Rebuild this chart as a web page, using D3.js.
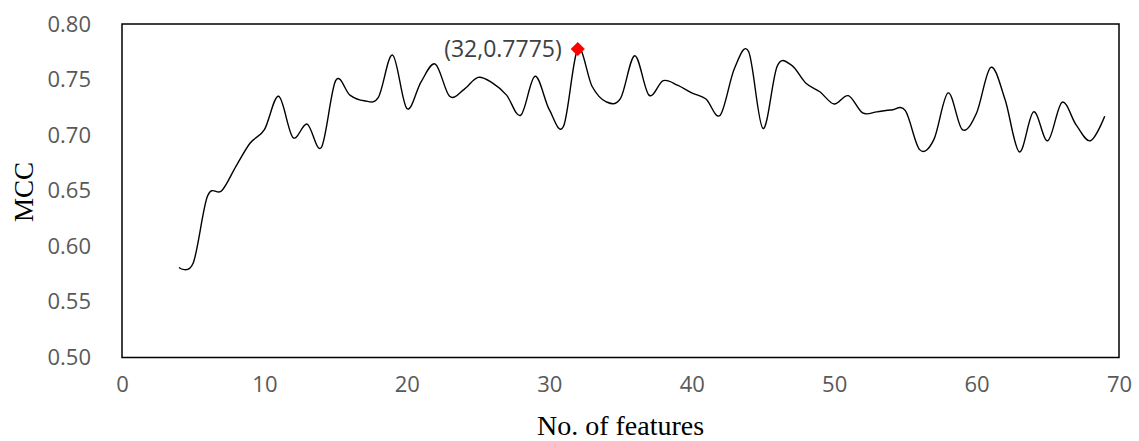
<!DOCTYPE html>
<html>
<head>
<meta charset="utf-8">
<script src="https://cdn.jsdelivr.net/npm/d3@7"></script>
<style>
  html, body { margin: 0; padding: 0; background: #fff; }
  svg { display: block; }
</style>
</head>
<body>
<svg id="chart" width="1139" height="441"></svg>
<script>
const features = [4,5,6,7,8,9,10,11,12,13,14,15,16,17,18,19,20,21,22,23,24,25,26,27,28,29,30,31,32,33,34,35,36,37,38,39,40,41,42,43,44,45,46,47,48,49,50,51,52,53,54,55,56,57,58,59,60,61,62,63,64,65,66,67,68,69];
const mcc = [0.581,0.585,0.645,0.650,0.672,0.693,0.705,0.735,0.698,0.710,0.689,0.749,0.736,0.731,0.734,0.772,0.724,0.748,0.764,0.735,0.741,0.752,0.747,0.736,0.718,0.753,0.723,0.708,0.7775,0.744,0.730,0.733,0.7715,0.736,0.749,0.745,0.738,0.7325,0.718,0.760,0.775,0.706,0.762,0.763,0.747,0.739,0.728,0.7355,0.720,0.721,0.7226,0.722,0.687,0.696,0.738,0.705,0.720,0.761,0.732,0.685,0.721,0.695,0.7296,0.709,0.695,0.717];
const xTicks = [0,10,20,30,40,50,60,70];
const yTicks = [0.50,0.55,0.60,0.65,0.70,0.75,0.80];
const best = {x: 32, y: 0.7775, label: "(32,0.7775)"};
const xTitle = "No. of features";
const yTitle = "MCC";

const svg = d3.select("#chart");
const L = 122, R = 1119, T = 24, B = 357.5;
const x = d3.scaleLinear().domain([0, 70]).range([L, R]);
const y = d3.scaleLinear().domain([0.50, 0.80]).range([B, T]);

// frame
svg.append("rect").attr("x", L).attr("y", T).attr("width", R - L).attr("height", B - T)
  .attr("fill", "none").attr("stroke", "#000").attr("stroke-width", 1.5);

const tickFont = "'Open Sans', sans-serif";

// y axis ticks
const yAxis = d3.axisLeft(y).tickValues(yTicks).tickFormat(d3.format(".2f")).tickSize(0).tickPadding(0);
const gy = svg.append("g").attr("transform", `translate(${L - 31},0)`).call(yAxis);
gy.select(".domain").remove();
gy.selectAll("text").attr("font-family", tickFont).attr("font-size", 22).attr("fill", "#595959");

// x axis ticks
const xAxis = d3.axisBottom(x).tickValues(xTicks).tickFormat(d3.format("d")).tickSize(0).tickPadding(0);
const gx = svg.append("g").attr("transform", `translate(0,${B + 19})`).call(xAxis);
gx.select(".domain").remove();
gx.selectAll("text").attr("font-family", tickFont).attr("font-size", 22).attr("fill", "#595959");

// titles
svg.append("text").attr("x", (L + R) / 2).attr("y", 435).attr("text-anchor", "middle")
  .attr("font-family", "'Liberation Serif', 'Times New Roman', serif").attr("font-size", 28)
  .attr("fill", "#000").text(xTitle);
svg.append("text").attr("transform", `translate(33,${192}) rotate(-90)`).attr("text-anchor", "middle")
  .attr("font-family", "'Liberation Serif', 'Times New Roman', serif").attr("font-size", 27)
  .attr("fill", "#000").text(yTitle);

// line
const data = features.map((f, i) => ({x: f, y: mcc[i]}));
const line = d3.line().x(d => x(d.x)).y(d => y(d.y)).curve(d3.curveCatmullRom.alpha(0));
svg.append("path").datum(data).attr("d", line).attr("fill", "none")
  .attr("stroke", "#000").attr("stroke-width", 1.4);

// best marker
svg.append("path").attr("d", d3.symbol().type(d3.symbolSquare).size(100)())
  .attr("transform", `translate(${x(best.x)},${y(best.y)}) rotate(45)`).attr("fill", "#ff0000");
svg.append("text").attr("x", x(best.x) - 16).attr("y", y(best.y) + 8).attr("text-anchor", "end")
  .attr("font-family", tickFont).attr("font-size", 23).attr("fill", "#404040").text(best.label);
</script>
</body>
</html>
